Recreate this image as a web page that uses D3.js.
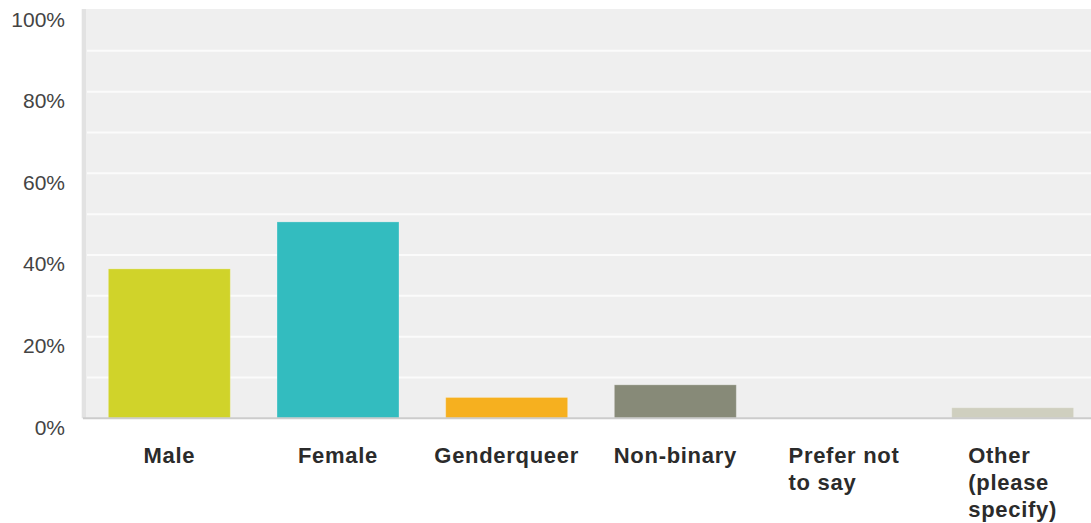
<!DOCTYPE html>
<html>
<head>
<meta charset="utf-8">
<script src="https://cdn.jsdelivr.net/npm/d3@7"></script>
<style>
  html, body { margin: 0; padding: 0; background: #ffffff; }
  svg { display: block; }
</style>
</head>
<body>
<svg id="chart" width="1091" height="523"></svg>
<script>
// Gender of respondents, share of answers (%)
const categories = ["Male", "Female", "Genderqueer", "Non-binary", "Prefer not to say", "Other (please specify)"];
const values = [36.6, 48.1, 5.1, 8.2, 0, 2.6];
const barColors = ["#d0d32a", "#33bcbf", "#f6b01f", "#878a78", "#b5a27a", "#cfcfbf"];
const yTicks = [0, 20, 40, 60, 80, 100];
const gridTicks = [10, 20, 30, 40, 50, 60, 70, 80, 90];

const svg = d3.select("#chart");
const plot = { left: 86, top: 10, bottom: 418.3, right: 1097 };

const x = d3.scaleBand()
  .domain(categories)
  .range([plot.left - 1, plot.right])
  .paddingInner(0.277)
  .paddingOuter(0.1385);

const y = d3.scaleLinear()
  .domain([0, 100])
  .range([plot.bottom, plot.top]);

// plot background
svg.append("rect")
  .attr("x", plot.left)
  .attr("y", y(100) - 1)
  .attr("width", 1091 - plot.left)
  .attr("height", plot.bottom - y(100) + 1)
  .attr("fill", "#efefef");

// left axis strip
svg.append("rect")
  .attr("x", 81.7)
  .attr("y", y(100) - 1)
  .attr("width", 4.3)
  .attr("height", plot.bottom - y(100) + 1)
  .attr("fill", "#e2e2e2");

// horizontal gridlines
svg.append("g")
  .selectAll("line")
  .data(gridTicks)
  .join("line")
  .attr("x1", plot.left + 1)
  .attr("x2", 1091)
  .attr("y1", d => y(d))
  .attr("y2", d => y(d))
  .attr("stroke", "#fbfbfb")
  .attr("stroke-width", 2);

// y axis labels
const yAxis = d3.axisLeft(y)
  .tickValues(yTicks)
  .tickFormat(d => d + "%")
  .tickSize(0)
  .tickPadding(0);

const yg = svg.append("g")
  .attr("transform", "translate(65,0)")
  .call(yAxis);
yg.select(".domain").remove();
yg.selectAll("text")
  .attr("font-family", "'Liberation Sans', Arial, sans-serif")
  .attr("font-size", 21)
  .attr("fill", "#444444")
  .attr("dy", null)
  .attr("dominant-baseline", "auto")
  .attr("y", 16);

// bars
svg.append("g")
  .selectAll("rect")
  .data(values)
  .join("rect")
  .attr("x", (d, i) => x(categories[i]))
  .attr("width", x.bandwidth())
  .attr("y", d => y(d))
  .attr("height", d => plot.bottom - y(d))
  .attr("fill", (d, i) => barColors[i])
  .attr("stroke", d => d > 0 ? "#ffffff" : "none")
  .attr("stroke-opacity", 0.25)
  .attr("stroke-width", 1);

// baseline
svg.append("line")
  .attr("x1", 83)
  .attr("x2", 1091)
  .attr("y1", plot.bottom)
  .attr("y2", plot.bottom)
  .attr("stroke", "#cccccc")
  .attr("stroke-width", 2);

// category labels, wrapped to the bar width, lines left-aligned in a centred block
const labelG = svg.append("g")
  .attr("font-family", "'Liberation Sans', Arial, sans-serif")
  .attr("font-weight", "bold")
  .attr("font-size", 22)
  .attr("letter-spacing", "0.7px")
  .attr("fill", "#2b2b2b");

const maxLineWidth = x.bandwidth() + 8;
const lineHeight = 26.7;

categories.forEach(cat => {
  const t = labelG.append("text").attr("y", 463.3);
  const words = cat.split(" ");
  const lines = [];
  let current = [];
  const probe = t.append("tspan");
  words.forEach(w => {
    const trial = current.concat([w]).join(" ");
    probe.text(trial);
    if (current.length && probe.node().getComputedTextLength() > maxLineWidth) {
      lines.push(current.join(" "));
      current = [w];
    } else {
      current.push(w);
    }
  });
  lines.push(current.join(" "));
  probe.remove();

  const spans = lines.map((line, i) =>
    t.append("tspan").attr("dy", i === 0 ? 0 : lineHeight).text(line));
  const widest = d3.max(spans, s => s.node().getComputedTextLength());
  const left = x(cat) + x.bandwidth() / 2 - widest / 2;
  spans.forEach(s => s.attr("x", left));
});
</script>
</body>
</html>
